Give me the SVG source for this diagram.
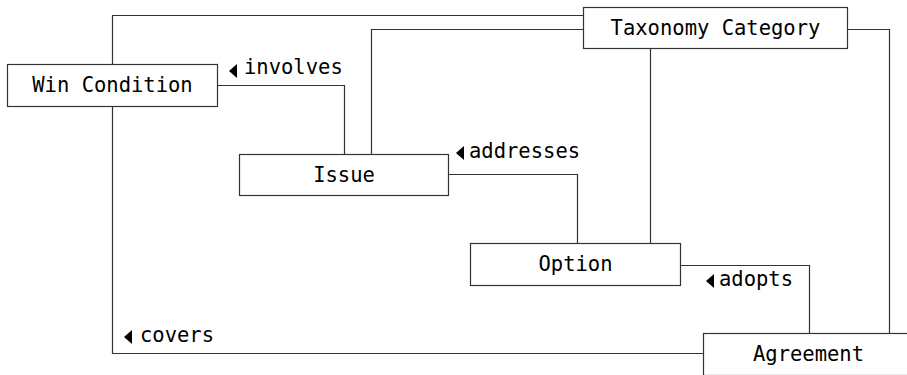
<svg xmlns="http://www.w3.org/2000/svg" width="907" height="375" viewBox="0 0 907 375">
<style>
.box{fill:#fff;stroke:#333;stroke-width:1.2}
.edge{fill:none;stroke:#333;stroke-width:1.2}
.t{font-family:"DejaVu Sans Mono","Liberation Mono",monospace;font-size:20.5px;fill:#000}
.c{text-anchor:middle}
.tri{fill:#000}
</style>
<rect width="907" height="375" fill="#fff"/>
<g id="connectors">
<path class="edge" d="M112.5,64.5 V15.5 H583.5"/>
<path class="edge" d="M371.5,154.5 V29.5 H583.5"/>
<path class="edge" d="M217.5,85.5 H344.5 V154.5"/>
<path class="edge" d="M448.5,174.5 H577.5 V243.5"/>
<path class="edge" d="M650.5,48.5 V243.5"/>
<path class="edge" d="M847.5,29.5 H889.5 V333.5"/>
<path class="edge" d="M680.5,265.5 H809.5 V333.5"/>
<path class="edge" d="M112.5,106.5 V353.5 H703.5"/>
<g id="label-involves"><polygon class="tri" points="229,71 237,64 237,78"/><text class="t" x="244" y="74">involves</text></g>
<g id="label-addresses"><polygon class="tri" points="456,153 464,146 464,160"/><text class="t" x="469" y="158">addresses</text></g>
<g id="label-adopts"><polygon class="tri" points="706,281 714,274 714,288"/><text class="t" x="719" y="286">adopts</text></g>
<g id="label-covers"><polygon class="tri" points="124,337 132,330 132,344"/><text class="t" x="140" y="342">covers</text></g>
</g>
<g id="win-condition"><rect class="box" x="7.5" y="64.5" width="210" height="42"/><text class="t c" x="112.5" y="92">Win Condition</text></g>
<g id="issue"><rect class="box" x="239.5" y="154.5" width="209" height="41"/><text class="t c" x="344" y="182">Issue</text></g>
<g id="taxonomy-category"><rect class="box" x="583.5" y="7.5" width="264" height="41"/><text class="t c" x="715.5" y="35">Taxonomy Category</text></g>
<g id="option"><rect class="box" x="470.5" y="243.5" width="210" height="42"/><text class="t c" x="575.5" y="271">Option</text></g>
<g id="agreement"><rect class="box" x="703.5" y="333.5" width="210" height="42"/><text class="t c" x="808.5" y="361">Agreement</text></g>
</svg>
